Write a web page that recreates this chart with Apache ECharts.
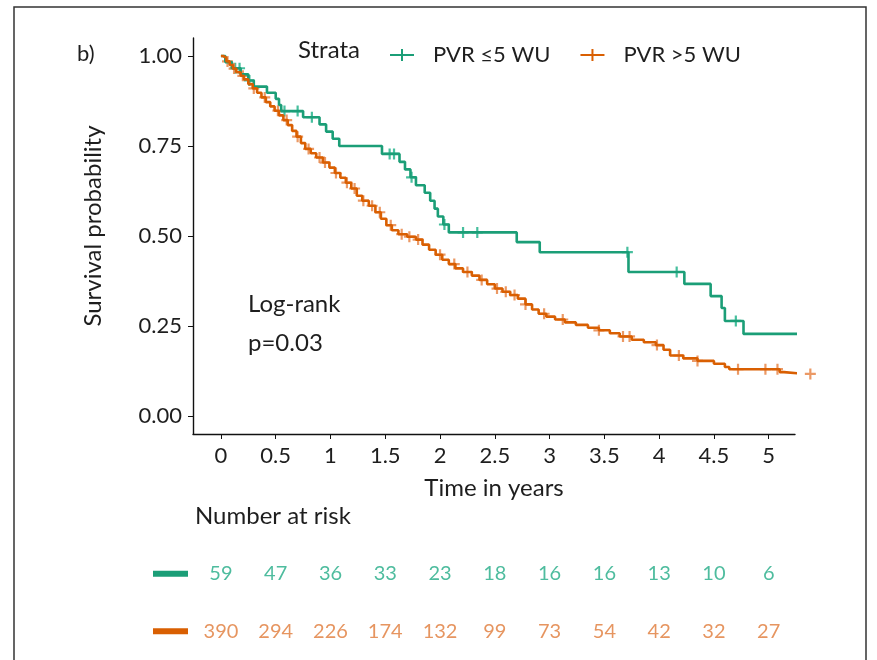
<!DOCTYPE html>
<html>
<head>
<meta charset="utf-8">
<script src="https://cdn.jsdelivr.net/npm/echarts@6/dist/echarts.min.js"></script>
<style>html,body{margin:0;padding:0;background:#fff}#c{width:877px;height:660px}</style>
</head>
<body>
<div id="c"></div>
<script>
// ---------- data ----------
const xTicks = [0, 0.5, 1, 1.5, 2, 2.5, 3, 3.5, 4, 4.5, 5];
const yTicks = [0, 0.25, 0.5, 0.75, 1];
const strataNames = ['PVR ≤5 WU', 'PVR >5 WU'];

// PVR <=5 WU : event times and survival after each event
const lowTimes = [0, 0.04, 0.10, 0.18, 0.25, 0.30, 0.42, 0.50, 0.53, 0.55, 0.75, 0.90, 0.96, 1.02, 1.08, 1.47, 1.63, 1.68, 1.73, 1.78, 1.86, 1.91, 1.95, 1.98, 2.03, 2.08, 2.70, 2.91, 3.72, 4.23, 4.47, 4.57, 4.60, 4.77, 5.31];
const lowSurv  = [1, 0.983, 0.966, 0.949, 0.932, 0.915, 0.898, 0.881, 0.864, 0.847, 0.830, 0.810, 0.790, 0.770, 0.750, 0.728, 0.706, 0.685, 0.663, 0.641, 0.620, 0.598, 0.576, 0.554, 0.532, 0.510, 0.483, 0.455, 0.400, 0.367, 0.333, 0.300, 0.264, 0.228, 0.228];
const lowCensor = [0.13, 0.17, 0.26, 0.58, 0.70, 0.83, 1.54, 1.58, 1.74, 2.04, 2.21, 2.34, 3.71, 4.16, 4.70];

// PVR >5 WU
const highTimes = [0, 0.02, 0.05, 0.08, 0.11, 0.14, 0.18, 0.21, 0.25, 0.29, 0.33, 0.37, 0.41, 0.45, 0.49, 0.53, 0.57, 0.61, 0.65, 0.69, 0.73, 0.77, 0.82, 0.87, 0.93, 0.99, 1.04, 1.09, 1.14, 1.19, 1.24, 1.29, 1.35, 1.41, 1.46, 1.51, 1.56, 1.62, 1.70, 1.78, 1.84, 1.90, 1.96, 2.02, 2.08, 2.14, 2.21, 2.29, 2.36, 2.43, 2.50, 2.57, 2.64, 2.71, 2.78, 2.84, 2.90, 2.97, 3.05, 3.14, 3.24, 3.35, 3.45, 3.55, 3.64, 3.75, 3.86, 3.97, 4.04, 4.10, 4.22, 4.35, 4.50, 4.60, 4.64, 5.10, 5.14, 5.33];
const highSurv  = [1, 0.995, 0.985, 0.975, 0.965, 0.955, 0.945, 0.935, 0.922, 0.910, 0.898, 0.885, 0.872, 0.860, 0.848, 0.835, 0.822, 0.808, 0.792, 0.776, 0.758, 0.742, 0.730, 0.718, 0.704, 0.690, 0.675, 0.662, 0.648, 0.632, 0.612, 0.598, 0.584, 0.566, 0.548, 0.530, 0.516, 0.505, 0.498, 0.490, 0.476, 0.462, 0.448, 0.434, 0.422, 0.410, 0.400, 0.390, 0.378, 0.366, 0.354, 0.345, 0.336, 0.326, 0.310, 0.296, 0.284, 0.276, 0.268, 0.260, 0.253, 0.245, 0.238, 0.230, 0.221, 0.212, 0.205, 0.197, 0.184, 0.168, 0.160, 0.153, 0.145, 0.136, 0.130, 0.122, 0.117, 0.117];
const highCensor = [0.06, 0.12, 0.2, 0.3, 0.4, 0.52, 0.6, 0.7, 0.8, 0.9, 0.95, 1.05, 1.15, 1.22, 1.3, 1.38, 1.45, 1.55, 1.65, 1.72, 1.8, 2.0, 2.13, 2.25, 2.38, 2.52, 2.6, 2.68, 2.78, 2.95, 3.12, 3.45, 3.67, 3.73, 3.98, 4.18, 4.35, 4.72, 4.97, 5.08, 5.38];

const riskLow  = [59, 47, 36, 33, 23, 18, 16, 16, 13, 10, 6];
const riskHigh = [390, 294, 226, 174, 132, 99, 73, 54, 42, 32, 27];

// ---------- helpers ----------
const GREEN = '#1b9e77', ORANGE = '#d95f02';
const FONT = 'Lato';
function pairs(t, s) { return t.map((v, i) => [v, s[i]]); }
function survAt(t, times, surv) {
  let s = surv[0];
  for (let i = 0; i < times.length; i++) { if (times[i] <= t) s = surv[i]; else break; }
  return s;
}
function censorPts(c, times, surv) { return c.map(t => [t, survAt(t, times, surv)]); }
const plus = 'path://M4,0H6V4H10V6H6V10H4V6H0V4H4Z';
const legendIcon = 'path://M0,9H24V11H0Z M11,4H13V16H11Z';

const chart = echarts.init(document.getElementById('c'), null, { renderer: 'canvas' });
const axisTxt = { color: '#1e1e1e', fontFamily: FONT, fontSize: 22 };

chart.setOption({
  animation: false,
  backgroundColor: '#fff',
  textStyle: { fontFamily: FONT },
  grid: [
    { left: 193, top: 38, width: 602, height: 396 },
    { left: 193, top: 545, width: 602, height: 115 }
  ],
  legend: {
    data: strataNames.map((n, i) => ({ name: n, icon: legendIcon, itemStyle: { color: i ? ORANGE : GREEN } })),
    left: 385, top: 39, itemWidth: 24, itemHeight: 16, itemGap: 30,
    textStyle: { fontFamily: FONT, fontSize: 22, color: '#1e1e1e', padding: [0, 0, 0, 14] }
  },
  xAxis: [
    { gridIndex: 0, type: 'value', min: -0.255, max: 5.24,
      axisLine: { onZero: false, lineStyle: { color: '#111', width: 1.4 } },
      axisTick: { customValues: xTicks, length: 5, lineStyle: { color: '#111' } },
      axisLabel: { customValues: xTicks, ...axisTxt, margin: 11 },
      splitLine: { show: false },
      name: 'Time in years', nameLocation: 'middle', nameGap: 42,
      nameTextStyle: { fontFamily: FONT, fontSize: 24, color: '#1e1e1e' } },
    { gridIndex: 1, type: 'value', min: -0.255, max: 5.24, show: false }
  ],
  yAxis: [
    { gridIndex: 0, type: 'value', min: -0.05, max: 1.05,
      axisLine: { show: true, onZero: false, lineStyle: { color: '#111', width: 1.4 } },
      axisTick: { show: true, customValues: yTicks, length: 5, lineStyle: { color: '#111' } },
      axisLabel: { customValues: yTicks, ...axisTxt, margin: 11, formatter: v => v.toFixed(2) },
      splitLine: { show: false },
      name: 'Survival probability', nameLocation: 'middle', nameGap: 88, nameRotate: 90,
      nameTextStyle: { fontFamily: FONT, fontSize: 24, color: '#1e1e1e', padding: [0, 0, 0, 20] } },
    { gridIndex: 1, type: 'category', data: ['high', 'low'],
      axisLine: { show: false }, axisTick: { show: false },
      axisLabel: { margin: 5, formatter: v => v === 'low' ? '{g|}' : '{o|}',
        rich: { g: { backgroundColor: GREEN, width: 35, height: 6 }, o: { backgroundColor: ORANGE, width: 35, height: 6 } } } }
  ],
  series: [
    { name: strataNames[0], type: 'line', step: 'end', data: pairs(lowTimes, lowSurv), clip: false,
      showSymbol: false, lineStyle: { color: GREEN, width: 2.6 }, itemStyle: { color: GREEN } },
    { name: strataNames[1], type: 'line', step: 'end', data: pairs(highTimes, highSurv), clip: false,
      showSymbol: false, lineStyle: { color: ORANGE, width: 2.6 }, itemStyle: { color: ORANGE } },
    { name: 'censor-low', type: 'scatter', data: censorPts(lowCensor, lowTimes, lowSurv), clip: false,
      symbol: plus, symbolSize: 11, itemStyle: { color: '#33b893', opacity: 0.9 } },
    { name: 'censor-high', type: 'scatter', data: censorPts(highCensor, highTimes, highSurv), clip: false,
      symbol: plus, symbolSize: 11, itemStyle: { color: '#e8874a', opacity: 0.85 } },
    { name: 'risk-low', type: 'scatter', xAxisIndex: 1, yAxisIndex: 1, symbolSize: 0,
      data: xTicks.map((t, i) => [t, 'low', riskLow[i]]),
      label: { show: true, position: 'inside', formatter: p => p.value[2], color: '#22ab86', fontFamily: FONT, fontSize: 20 } },
    { name: 'risk-high', type: 'scatter', xAxisIndex: 1, yAxisIndex: 1, symbolSize: 0,
      data: xTicks.map((t, i) => [t, 'high', riskHigh[i]]),
      label: { show: true, position: 'inside', formatter: p => p.value[2], color: '#e07a38', fontFamily: FONT, fontSize: 20 } }
  ],
  graphic: [
    { type: 'rect', shape: { x: 14, y: 7, width: 852, height: 700 }, style: { fill: 'none', stroke: '#333', lineWidth: 1.5 }, silent: true },
    { type: 'text', left: 77, top: 43, style: { text: 'b)', fontFamily: FONT, fontSize: 22, fill: '#1e1e1e' } },
    { type: 'text', left: 298, top: 38, style: { text: 'Strata', fontFamily: FONT, fontSize: 24, fill: '#1e1e1e' } },
    { type: 'text', left: 248, top: 292, style: { text: 'Log-rank', fontFamily: FONT, fontSize: 24, fill: '#1e1e1e' } },
    { type: 'text', left: 248, top: 331, style: { text: 'p=0.03', fontFamily: FONT, fontSize: 24, fill: '#1e1e1e' } },
    { type: 'text', left: 195, top: 504, style: { text: 'Number at risk', fontFamily: FONT, fontSize: 24, fill: '#1e1e1e' } }
  ]
});
</script>
</body>
</html>
